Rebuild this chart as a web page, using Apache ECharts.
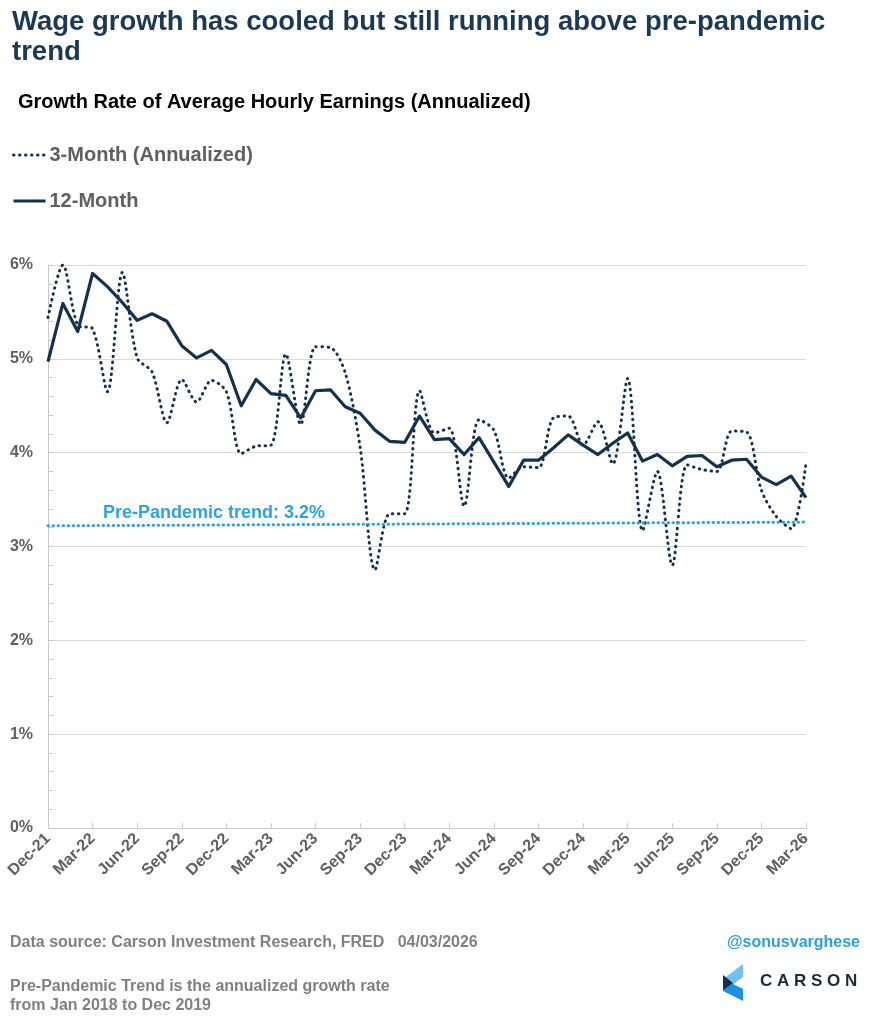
<!DOCTYPE html>
<html>
<head>
<meta charset="utf-8">
<script src="https://cdn.jsdelivr.net/npm/echarts@6/dist/echarts.min.js"></script>
<style>
html,body{margin:0;padding:0;background:#fff;}
#c{width:878px;height:1024px;}
</style>
</head>
<body>
<div id="c"></div>
<script>
const categories = [
 'Dec-21',
 'Jan-22','Feb-22','Mar-22','Apr-22','May-22','Jun-22','Jul-22','Aug-22','Sep-22','Oct-22','Nov-22','Dec-22',
 'Jan-23','Feb-23','Mar-23','Apr-23','May-23','Jun-23','Jul-23','Aug-23','Sep-23','Oct-23','Nov-23','Dec-23',
 'Jan-24','Feb-24','Mar-24','Apr-24','May-24','Jun-24','Jul-24','Aug-24','Sep-24','Oct-24','Nov-24','Dec-24',
 'Jan-25','Feb-25','Mar-25','Apr-25','May-25','Jun-25','Jul-25','Aug-25','Sep-25','Oct-25','Nov-25','Dec-25',
 'Jan-26','Feb-26','Mar-26'
];
const threeMonth = [
 5.44,
 6.00,5.36,5.32,4.65,5.92,5.01,4.86,4.32,4.78,4.54,4.77,4.65,
 3.99,4.07,4.08,5.05,4.30,5.13,5.12,4.85,4.06,2.75,3.35,3.35,
 4.66,4.21,4.26,3.43,4.35,4.24,3.73,3.85,3.84,4.37,4.39,4.08,
 4.33,3.88,4.79,3.17,3.80,2.80,3.87,3.82,3.80,4.23,4.22,3.60,
 3.32,3.19,3.89
];
const twelveMonth = [
 4.97,
 5.59,5.29,5.91,5.77,5.60,5.41,5.48,5.40,5.14,5.01,5.09,4.94,
 4.50,4.78,4.63,4.61,4.37,4.66,4.67,4.49,4.42,4.24,4.12,4.11,
 4.39,4.14,4.15,3.98,4.16,3.90,3.64,3.92,3.92,4.05,4.19,4.08,
 3.98,4.10,4.21,3.91,3.98,3.86,3.96,3.97,3.85,3.92,3.93,3.74,
 3.66,3.75,3.52
];
const trendStart = 3.22;
const trendEnd = 3.26;
const trendLabel = 'Pre-Pandemic trend: 3.2%';
const yTicks = [0,1,2,3,4,5,6];

const navy = '#15324d';
const grey = '#5f5f5f';
const FONT = '"Liberation Sans", Arial, sans-serif';

const chart = echarts.init(document.getElementById('c'), null, {renderer:'canvas'});
chart.setOption({
  backgroundColor:'#ffffff',
  animation:false,
  textStyle:{fontFamily:FONT},
  title:[
    {text:'Wage growth has cooled but still running above pre-pandemic\ntrend', left:12, top:7, padding:0,
     textStyle:{fontFamily:FONT, fontSize:27.5, fontWeight:'bold', color:'#1b3956', lineHeight:30}},
    {text:'Growth Rate of Average Hourly Earnings (Annualized)', left:18, top:92, padding:0,
     textStyle:{fontFamily:FONT, fontSize:20, fontWeight:'bold', color:'#000000'}}
  ],
  legend:{
    orient:'vertical', left:12, top:145, padding:0, itemGap:26, itemWidth:32, itemHeight:20,
    data:['3-Month (Annualized)','12-Month'],
    itemStyle:{opacity:0},
    lineStyle:{width:3},
    textStyle:{fontFamily:FONT, fontSize:20, fontWeight:'bold', color:grey, padding:[0,0,0,-1]}
  },
  grid:{left:48, right:72, top:265, bottom:196, containLabel:false},
  xAxis:{
    type:'category', data:categories, boundaryGap:false,
    axisLine:{show:true, lineStyle:{color:'#c8c8c8', width:1}},
    axisTick:{show:true, inside:true, interval:2, length:5, lineStyle:{color:'#c8c8c8'}},
    axisLabel:{interval:2, rotate:45, margin:8, fontFamily:FONT, fontSize:16, fontWeight:'bold', color:grey},
    splitLine:{show:false}
  },
  yAxis:{
    type:'value', min:yTicks[0], max:yTicks[yTicks.length-1], interval:1,
    axisLine:{show:true, lineStyle:{color:'#c8c8c8', width:1}},
    axisTick:{show:true, inside:true, length:5, lineStyle:{color:'#c8c8c8'}},
    minorTick:{show:true, splitNumber:5, length:5, lineStyle:{color:'#c8c8c8'}},
    axisLabel:{formatter:'{value}%', margin:15, fontFamily:FONT, fontSize:16, fontWeight:'bold', color:grey},
    splitLine:{show:true, lineStyle:{color:'#d9d9d9', width:1}}
  },
  series:[
    {name:'3-Month (Annualized)', type:'line', data:threeMonth, symbol:'none', smooth:0.3,
     lineStyle:{color:navy, width:3, type:[0.5,5.5], cap:'round'}, itemStyle:{color:navy}, z:2},
    {name:'12-Month', type:'line', data:twelveMonth, symbol:'none', smooth:false,
     lineStyle:{color:navy, width:3.2, join:'round'}, itemStyle:{color:navy}, z:3,
     markLine:{
       silent:true, symbol:['none','none'],
       lineStyle:{color:'#2fa3dd', width:3, type:[0.5,4.5], cap:'round'},
       label:{show:false},
       data:[[{coord:[categories[0], trendStart]},{coord:[categories[categories.length-1], trendEnd]}]]
     }}
  ],
  graphic:[
    {type:'text', left:103, top:504, style:{text:trendLabel, font:'bold 18px "Liberation Sans", Arial, sans-serif', fill:'#2fa3dd'}},
    {type:'text', left:10, top:935, style:{text:'Data source: Carson Investment Research, FRED   04/03/2026', font:'bold 16px "Liberation Sans", Arial, sans-serif', fill:'#808080'}},
    {type:'text', left:10, top:979, style:{text:'Pre-Pandemic Trend is the annualized growth rate', font:'bold 16px "Liberation Sans", Arial, sans-serif', fill:'#808080'}},
    {type:'text', left:10, top:998, style:{text:'from Jan 2018 to Dec 2019', font:'bold 16px "Liberation Sans", Arial, sans-serif', fill:'#808080'}},
    {type:'text', right:18, top:935, style:{text:'@sonusvarghese', font:'bold 16px "Liberation Sans", Arial, sans-serif', fill:'#2e9fd9'}},
    {type:'polygon', shape:{points:[[743,964],[743,977],[730,987],[723,979]]}, style:{fill:'#74c1f1'}},
    {type:'polygon', shape:{points:[[723,979],[743,989],[743,1001],[723,991]]}, style:{fill:'#1f8fe0'}},
    {type:'polygon', shape:{points:[[723,975],[733,983],[723,990]]}, style:{fill:'#14304a'}},
    {type:'text', left:760, top:973, style:{text:'C A R S O N', font:'bold 17px "Liberation Sans", Arial, sans-serif', fill:'#1c2b3c'}}
  ]
});
</script>
</body>
</html>
